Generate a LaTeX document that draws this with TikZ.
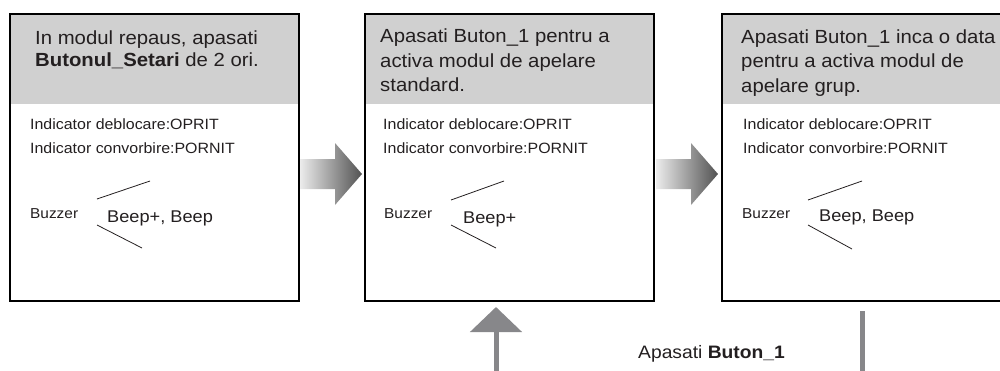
\documentclass[tikz,border=0pt]{standalone}
\usepackage{fontspec}
\setmainfont{Liberation Sans}[FakeStretch=1.07]
\usetikzlibrary{arrows.meta}
\definecolor{hdrgray}{RGB}{208,208,208}
\definecolor{ink}{RGB}{35,31,32}
\definecolor{arrgray}{RGB}{135,135,138}
\tikzset{
  box/.style={draw=black, line width=1.8pt, outer sep=0pt, inner sep=0pt,
    minimum width=289pt, minimum height=287pt, anchor=north west,
    path picture={\fill[hdrgray] (path picture bounding box.north west) rectangle ([yshift=-90pt]path picture bounding box.north east);}},
  htext/.style={anchor=base west, inner sep=0pt, text=ink, font=\fontsize{19}{23}\selectfont},
  btext/.style={anchor=base west, inner sep=0pt, text=ink, font=\fontsize{14.9}{18}\selectfont},
  bztext/.style={anchor=base west, inner sep=0pt, text=ink, font=\fontsize{14.4}{18}\selectfont},
  beeptext/.style={anchor=base west, inner sep=0pt, text=ink, font=\fontsize{17}{20}\selectfont},
  lbltext/.style={anchor=base west, inner sep=0pt, text=ink, font=\fontsize{18}{22}\selectfont},
  wave/.style={draw=ink, line width=0.8pt},
  bigarrow/.style={left color=gray!15, right color=black!68, draw=none},
  vline/.style={draw=arrgray, line width=5pt},
}
\begin{document}
\begin{tikzpicture}[x=1pt,y=-1pt]
\useasboundingbox (0,0) rectangle (1000,370);
\clip (0,0) rectangle (1000,370);
% boxes
\node[box] (b1) at (10,14) {};
\node[box] (b2) at (365,14) {};
\node[box] (b3) at (722,14) {};
% box 1 texts
\node[htext] (h11) at (35,44) {In modul repaus, apasati};
\node[htext] (h12) at (35,66) {\textbf{Butonul\_Setari} de 2 ori.};
\node[btext] (i11) at (30,129) {Indicator deblocare:OPRIT};
\node[btext] (i12) at (30,153) {Indicator convorbire:PORNIT};
\node[bztext] (z1) at (30,218) {Buzzer};
\node[beeptext] (p1) at (107,222) {Beep+, Beep};
\draw[wave] (97,199) -- (150,181);
\draw[wave] (97,225) -- (142,248);
% box 2 texts
\node[htext] (h21) at (380,42) {Apasati Buton\_1 pentru a};
\node[htext] (h22) at (380,67) {activa modul de apelare};
\node[htext] (h23) at (380,91) {standard.};
\node[btext] (i21) at (383,129) {Indicator deblocare:OPRIT};
\node[btext] (i22) at (383,153) {Indicator convorbire:PORNIT};
\node[bztext] (z2) at (384,218) {Buzzer};
\node[beeptext] (p2) at (463,223) {Beep+};
\draw[wave] (451,200) -- (504,181);
\draw[wave] (451,225) -- (496,248);
% box 3 texts
\node[htext] (h31) at (741,43) {Apasati Buton\_1 inca o data};
\node[htext] (h32) at (741,67) {pentru a activa modul de};
\node[htext] (h33) at (741,92) {apelare grup.};
\node[btext] (i31) at (743,129) {Indicator deblocare:OPRIT};
\node[btext] (i32) at (743,153) {Indicator convorbire:PORNIT};
\node[bztext] (z3) at (742,218) {Buzzer};
\node[beeptext] (p3) at (819,221) {Beep, Beep};
\draw[wave] (808,200) -- (862,181);
\draw[wave] (808,225) -- (852,249);
% horizontal arrows
\coordinate (a1) at (300,174);
\coordinate (a2) at (656,174);
\path[bigarrow] (a1) ++(0,-15) -- ++(35,0) -- ++(0,-16) -- ++(27,31) -- ++(-27,31) -- ++(0,-16) -- ++(-35,0) -- cycle;
\path[bigarrow] (a2) ++(0,-15) -- ++(35,0) -- ++(0,-16) -- ++(27,31) -- ++(-27,31) -- ++(0,-16) -- ++(-35,0) -- cycle;
% bottom connectors
\coordinate (u0) at (496,372);
\draw[vline, -{Triangle[width=51pt,length=25pt]}, shorten >=6pt] (u0) -- (u0 |- b2.south);
\coordinate (r0) at (862,372);
\draw[vline, shorten >=10pt] (r0) -- (r0 |- b3.south);
\node[lbltext] (lbl) at (638,358) {Apasati \textbf{Buton\_1}};
\end{tikzpicture}
\end{document}
